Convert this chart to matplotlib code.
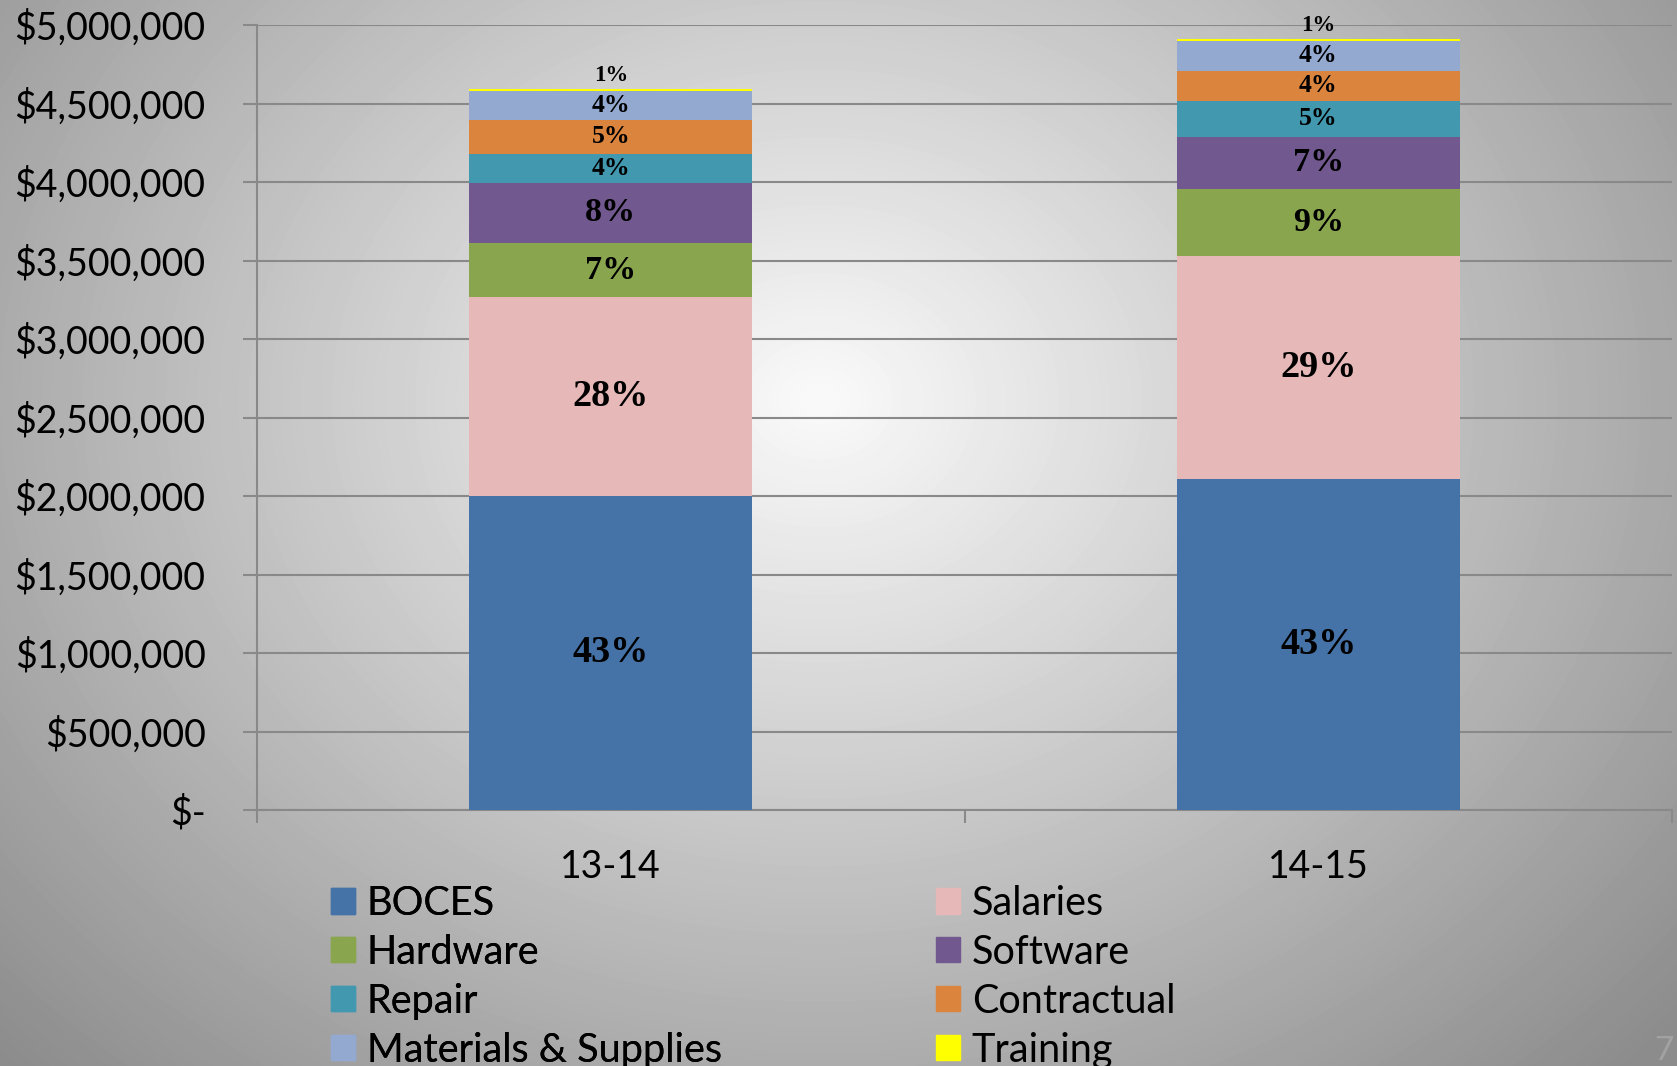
import numpy as np
import matplotlib.pyplot as plt
from matplotlib.patches import Patch
from matplotlib.ticker import FuncFormatter, MultipleLocator, FixedLocator

# data (dollars)
years = ['13-14', '14-15']
categories = ['BOCES', 'Salaries', 'Hardware', 'Software', 'Repair',
              'Contractual', 'Materials & Supplies', 'Training']
boces = [2000000, 2108000]
salaries = [1268000, 1423000]
hardware = [342000, 424000]
software = [386000, 334000]
repair = [183000, 227000]
contractual = [218000, 193000]
materials = [180000, 190000]
training = [17000, 15000]

# percent labels as printed on each bar (bottom to top)
pct_1314 = ['43%', '28%', '7%', '8%', '4%', '5%', '4%', '1%']
pct_1415 = ['43%', '29%', '9%', '7%', '5%', '4%', '4%', '1%']

colors = ['#4573A7', '#E6B8B7', '#89A54E', '#71588F', '#4198AF',
          '#DB843D', '#93A9CF', '#FFFF00']

W, H = 1677, 1066
TICK_FONT = 'Lato'
LABEL_FONT = 'Liberation Serif'


def draw_background(fig):
    bg = fig.add_axes([0, 0, 1, 1], zorder=-10)
    yy, xx = np.mgrid[0:H, 0:W]
    t = np.sqrt(((xx - 820) / 980.0) ** 2 + ((yy - 400) / 800.0) ** 2)
    val = np.clip(250 - 94 * t, 140, 252) / 255.0
    bg.imshow(val, cmap='gray', vmin=0, vmax=1, aspect='auto',
              extent=[0, 1, 0, 1], interpolation='bilinear')
    bg.axis('off')


def seg_fontsize(v):
    if v > 1000000:
        return 27.5
    if v > 300000:
        return 24.5
    return 18.5


def main():
    fig = plt.figure(figsize=(W / 100, H / 100), dpi=100)
    draw_background(fig)

    ax = fig.add_axes([257 / W, 1 - 810 / H, (1672 - 257) / W, (810 - 25) / H])
    ax.patch.set_alpha(0)

    series = [boces, salaries, hardware, software, repair,
              contractual, materials, training]
    labels = [pct_1314, pct_1415]
    x = np.arange(len(years))
    bottom = np.zeros(len(years))
    for i, (name, vals) in enumerate(zip(categories, series)):
        vals = np.array(vals, dtype=float)
        ax.bar(x, vals, 0.4, bottom=bottom, color=colors[i], label=name,
               zorder=3)
        for j in range(len(years)):
            txt = labels[j][i]
            if name == 'Training':
                ax.annotate(txt, (x[j], bottom[j] + vals[j]), xytext=(0, 2),
                            textcoords='offset points', ha='center', va='bottom',
                            fontsize=16.5, fontweight='bold', family=LABEL_FONT,
                            zorder=5)
            else:
                ax.text(x[j], bottom[j] + vals[j] / 2, txt, ha='center',
                        va='center', fontsize=seg_fontsize(vals[j]),
                        fontweight='bold', family=LABEL_FONT, zorder=5)
        bottom += vals

    ax.set_xlim(-0.5, 1.5)
    ax.set_ylim(0, 5000000)
    ax.yaxis.set_major_locator(MultipleLocator(500000))
    ax.yaxis.set_major_formatter(
        FuncFormatter(lambda v, _: '$-' if v == 0 else f'${v:,.0f}'))
    ax.set_xticks(x)
    ax.set_xticklabels(years)
    ax.xaxis.set_minor_locator(FixedLocator([-0.5, 0.5, 1.5]))

    gc = '#898989'
    ax.grid(axis='y', color=gc, linewidth=1.5, zorder=1)
    ax.set_axisbelow(True)
    for s in ['top', 'right']:
        ax.spines[s].set_visible(False)
    for s in ['left', 'bottom']:
        ax.spines[s].set_color(gc)
        ax.spines[s].set_linewidth(1.5)

    ax.tick_params(axis='y', length=10, width=1.5, color=gc, pad=27,
                   labelsize=27)
    ax.tick_params(axis='x', which='major', length=0, pad=28, labelsize=27)
    ax.tick_params(axis='x', which='minor', length=9.5, width=1.5, color=gc)
    for lab in ax.get_xticklabels() + ax.get_yticklabels():
        lab.set_family(TICK_FONT)

    # legend: two columns, filled row by row
    handles = [Patch(color=c) for c in colors]
    common = dict(loc='upper left', frameon=False, borderpad=0,
                  borderaxespad=0, handlelength=0.6, handleheight=0.6,
                  handletextpad=0.3, labelspacing=0.3,
                  prop={'family': TICK_FONT, 'size': 28.5})
    leg1 = fig.legend(handles[0::2], categories[0::2],
                      bbox_to_anchor=(331 / W, 1 - 885 / H), **common)
    fig.legend(handles[1::2], categories[1::2],
               bbox_to_anchor=(936 / W, 1 - 885 / H), **common)
    fig.add_artist(leg1)

    # slide number at the corner
    fig.text(1654 / W, 1 - 1036 / H, '7', color='#a2a2a2', fontsize=24,
             family=TICK_FONT, va='top', ha='left')

    fig.savefig('out.png', dpi=100)
    plt.close(fig)


if __name__ == '__main__':
    main()
